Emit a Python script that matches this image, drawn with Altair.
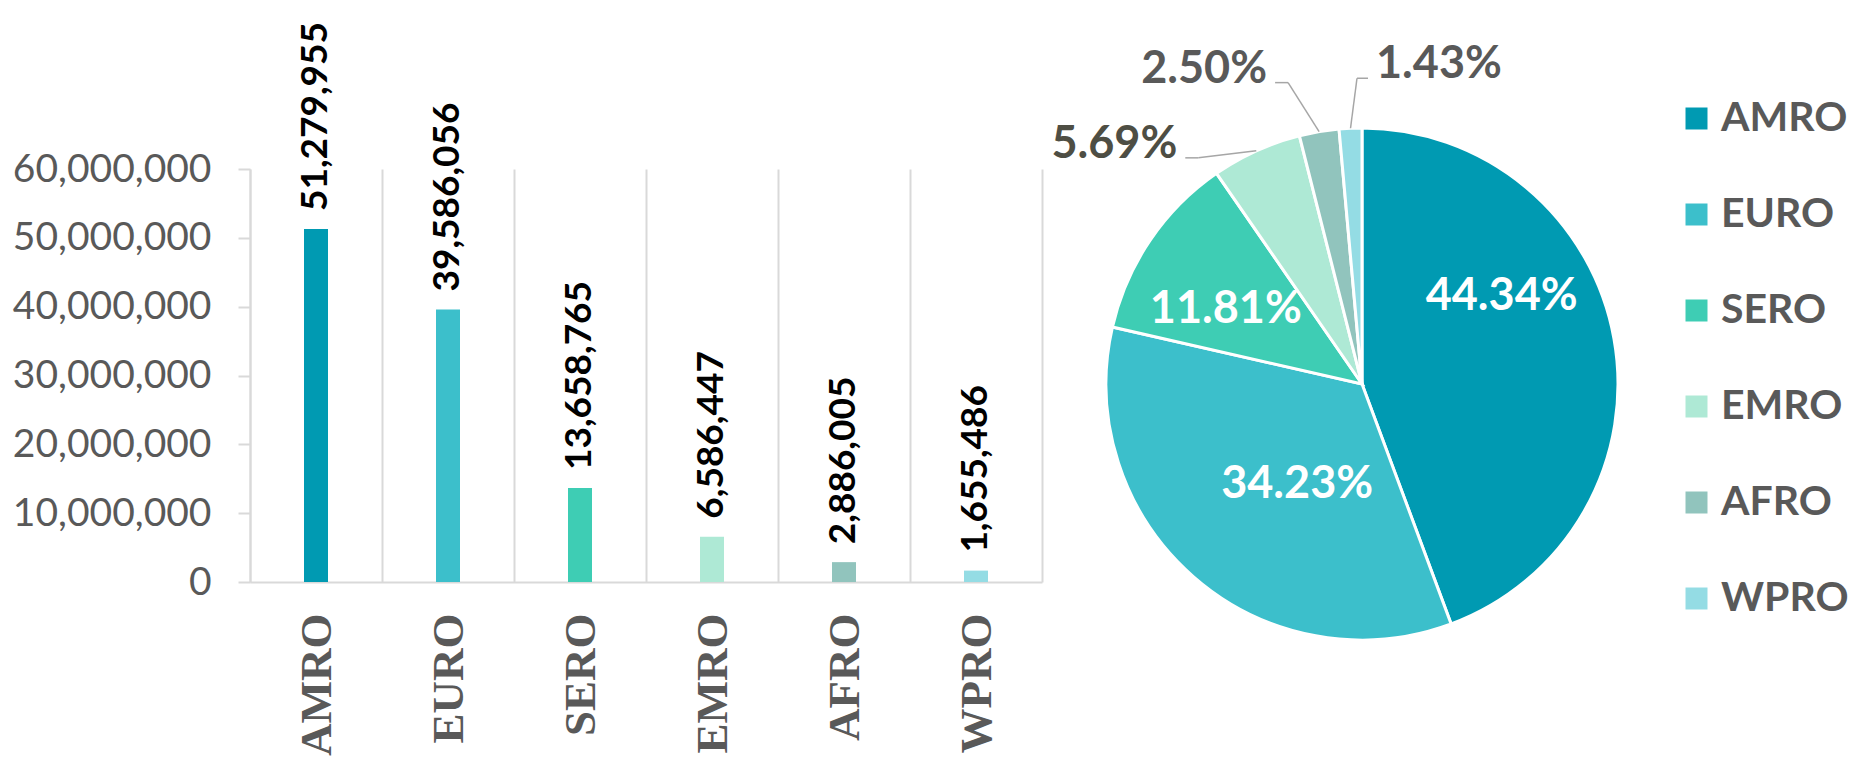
import altair as alt
import pandas as pd

# ---------------- data ----------------
regions = ["AMRO", "EURO", "SERO", "EMRO", "AFRO", "WPRO"]
cases = [51279955, 39586056, 13658765, 6586447, 2886005, 1655486]
pie_pct = [44.34, 34.23, 11.81, 5.69, 2.50, 1.43]
y_ticks = [0, 10000000, 20000000, 30000000, 40000000, 50000000, 60000000]
colors = ["#009AB2", "#3CBFCB", "#3ECDB4", "#AEE9D5", "#91C4BD", "#94DCE4"]

df = pd.DataFrame({
    "region": regions,
    "cases": cases,
    "pct": pie_pct,
    "idx": list(range(len(regions))),
})

# ---------------- layout constants ----------------
PLOT_W, PLOT_H = 792, 413
PAD_L, PAD_T = 250, 169
PIE_CX, PIE_CY, PIE_R = 1112, 215, 256
R_IN = 150
INNER_NUDGE = {"AMRO": (-8, -61), "EURO": (34, -13), "SERO": (-12, 9)}
OUTER_END = {"EMRO": (-71, 7), "AFRO": (-44, -49), "WPRO": (17.5, -50)}
ELBOW = {"EMRO": 13, "AFRO": 13, "WPRO": -11}
GRID = "#D9D9D9"
TXT = "#595959"


def pick(d, k=None):
    items = list(d.items())
    expr = str(items[-1][1] if k is None else items[-1][1][k])
    for name, v in reversed(items[:-1]):
        val = v if k is None else v[k]
        expr = f"(datum.region == '{name}' ? {val} : {expr})"
    return expr


color_enc = alt.Color(
    "region:N",
    scale=alt.Scale(domain=regions, range=colors),
    legend=alt.Legend(
        orient="none", legendX=1426, legendY=-71, title=None,
        symbolType="square", symbolSize=484, symbolStrokeWidth=0,
        labelFont="Lato", labelFontWeight="bold", labelFontSize=41,
        labelColor=TXT, rowPadding=54, labelOffset=4, padding=0,
        labelLimit=400,
        labelExpr="datum.label == 'EURO' ? '\u2002EURO' : datum.label",
    ),
)

x_enc = alt.X(
    "region:N", sort=regions, title=None,
    scale=alt.Scale(paddingInner=0, paddingOuter=0),
    axis=alt.Axis(
        grid=True, tickBand="extent", gridColor=GRID, gridWidth=2,
        ticks=False, domainColor=GRID, domainWidth=2,
        labelAngle=270, labelFont="Liberation Serif", labelFontWeight="bold",
        labelFontSize=45, labelColor=TXT, labelPadding=31, labelLimit=400,
    ),
)
y_enc = alt.Y(
    "cases:Q", title=None,
    scale=alt.Scale(domain=[0, 60000000], nice=False),
    axis=alt.Axis(
        values=y_ticks, format=",d", grid=False, domainColor=GRID, domainWidth=2,
        tickColor=GRID, tickWidth=2, tickSize=12,
        labelFont="Lato", labelFontSize=39, labelColor=TXT, labelPadding=27,
        labelLimit=400,
    ),
)

base = alt.Chart(df)

bars = base.mark_bar(size=24).encode(x=x_enc, y=y_enc, color=color_enc)

bar_labels = base.mark_text(
    angle=270, align="left", baseline="middle", dx=18,
    font="Lato", fontWeight="bold", fontSize=37, color="black",
).encode(
    x=alt.X("region:N", sort=regions, title=None),
    y=alt.Y("cases:Q", title=None),
    text=alt.Text("cases:Q", format=",d"),
)

arcs = base.mark_arc(radius=PIE_R, stroke="white", strokeWidth=3).encode(
    theta=alt.Theta("pct:Q", stack=True),
    color=color_enc,
    order=alt.Order("idx:Q"),
    x=alt.value(PIE_CX),
    y=alt.value(PIE_CY),
)

pie_base = base.transform_joinaggregate(
    total="sum(pct)"
).transform_window(
    cum="sum(pct)", sort=[alt.SortField("idx", order="ascending")], frame=[None, 0]
).transform_calculate(
    mid="2 * PI * (datum.cum - datum.pct / 2) / datum.total",
    label="format(datum.pct, '.2f') + '%'",
).transform_calculate(
    ex=f"{PIE_CX} + {PIE_R} * sin(datum.mid)",
    ey=f"{PIE_CY} - {PIE_R} * cos(datum.mid)",
    ix=f"{PIE_CX} + {R_IN} * sin(datum.mid)",
    iy=f"{PIE_CY} - {R_IN} * cos(datum.mid)",
)

inner = pie_base.transform_filter(
    "datum.idx < 3"
).transform_calculate(
    tx="datum.ix + " + pick(INNER_NUDGE, 0),
    ty="datum.iy + " + pick(INNER_NUDGE, 1),
).mark_text(
    align="center", baseline="middle", font="Lato", fontWeight="bold",
    fontSize=45, color="white",
).encode(
    x=alt.X("tx:Q", scale=None, axis=None),
    y=alt.Y("ty:Q", scale=None, axis=None),
    text="label:N",
)

outer = pie_base.transform_filter("datum.idx >= 3").transform_calculate(
    lx="datum.ex + " + pick(OUTER_END, 0),
    ly="datum.ey + " + pick(OUTER_END, 1),
).transform_calculate(
    bx="datum.lx + " + pick(ELBOW),
)

lead1 = outer.mark_rule(color="#A6A6A6", strokeWidth=1.5).encode(
    x=alt.X("lx:Q", scale=None, axis=None), x2="bx:Q",
    y=alt.Y("ly:Q", scale=None, axis=None), y2="ly:Q",
)
lead2 = outer.mark_rule(color="#A6A6A6", strokeWidth=1.5).encode(
    x=alt.X("bx:Q", scale=None, axis=None), x2="ex:Q",
    y=alt.Y("ly:Q", scale=None, axis=None), y2="ey:Q",
)

out_left = outer.transform_filter("datum.idx < 5").mark_text(
    align="right", baseline="alphabetic", dx=-8, font="Lato", fontWeight="bold",
    fontSize=45,
).encode(
    x=alt.X("lx:Q", scale=None, axis=None),
    y=alt.Y("ly:Q", scale=None, axis=None),
    text="label:N",
    color=alt.condition("datum.region == 'EMRO'", alt.value("#4E4E44"), alt.value(TXT)),
)
out_right = outer.transform_filter("datum.idx >= 5").mark_text(
    align="left", baseline="alphabetic", dx=8, font="Lato", fontWeight="bold",
    fontSize=45, color=TXT,
).encode(
    x=alt.X("lx:Q", scale=None, axis=None),
    y=alt.Y("ly:Q", scale=None, axis=None),
    text="label:N",
)

chart = alt.layer(
    bars, bar_labels, arcs, lead1, lead2, inner, out_left, out_right
).properties(
    width=PLOT_W, height=PLOT_H,
    padding={"left": PAD_L, "top": PAD_T, "right": 1860 - PAD_L - PLOT_W, "bottom": 764 - PAD_T - PLOT_H},
    autosize=alt.AutoSizeParams(type="none"),
    background="white",
).configure_view(stroke=None)

chart.save("out.html", embed_options={"renderer": "svg", "actions": False})
